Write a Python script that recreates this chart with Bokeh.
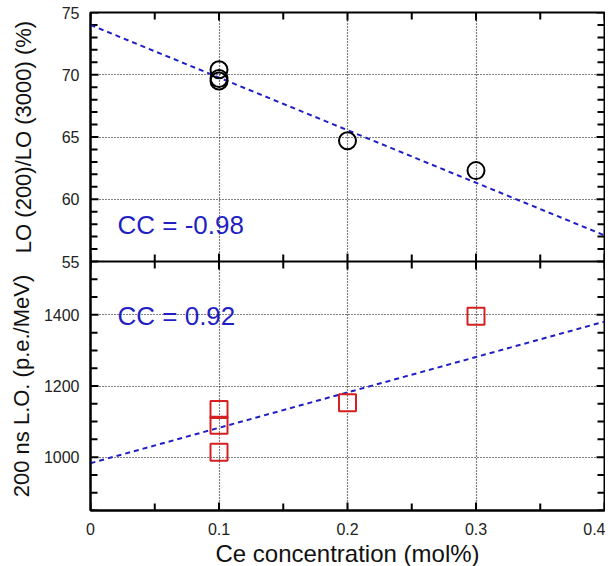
from bokeh.plotting import figure
from bokeh.layouts import column
from bokeh.models import Range1d, FixedTicker, LinearAxis
from bokeh.core.properties import value
from bokeh.embed import file_html
from bokeh.resources import INLINE

# ---- data ----
ce_top = [0.1, 0.1, 0.1, 0.2, 0.3]
lo_ratio = [70.4, 69.7, 69.5, 64.7, 62.3]
fit_top_x = [0.0, 0.4]
fit_top_y = [74.0, 57.1]
cc_top = "CC = -0.98"

ce_bot = [0.1, 0.1, 0.1, 0.2, 0.3]
lo_200 = [1134, 1090, 1014, 1153, 1396]
fit_bot_x = [0.0, 0.4]
fit_bot_y = [983, 1381]
cc_bot = "CC = 0.92"

x_major = [0, 0.1, 0.2, 0.3, 0.4]
x_minor = [0.05, 0.15, 0.25, 0.35]
top_major = [55, 60, 65, 70, 75]
top_minor = [56, 57, 58, 59, 61, 62, 63, 64, 66, 67, 68, 69, 71, 72, 73, 74]
bot_major = [1000, 1200, 1400]
bot_minor = [850, 900, 950, 1050, 1100, 1150, 1250, 1300, 1350, 1450, 1500, 1550]

FONT = "Liberation Sans"
BLUE = "#1f1fc4"
RED = "#d42020"

FW, FH = 514, 249
MAJOR_LEN, MINOR_LEN = 8, 7  # tick lengths in pixels

xr = Range1d(0, 0.4)


def style_axis(ax):
    ax.axis_line_width = 2
    ax.axis_line_color = "black"
    ax.major_tick_line_color = None
    ax.minor_tick_line_color = None
    ax.major_label_text_font = FONT
    ax.major_label_text_font_size = "16px"
    ax.major_label_text_color = "#222222"
    ax.axis_label_text_font = FONT
    ax.axis_label_text_font_style = "normal"
    ax.axis_label_text_color = "#111111"


def add_inward_ticks(p, yr, ymaj, ymin):
    xs_per_px = (xr.end - xr.start) / FW
    ys_per_px = (yr.end - yr.start) / FH
    x0, x1, y0, y1 = [], [], [], []
    for ticks, L in ((x_major, MAJOR_LEN), (x_minor, MINOR_LEN)):
        for t in ticks:
            x0.append(t); x1.append(t); y0.append(yr.start); y1.append(yr.start + L * ys_per_px)
            x0.append(t); x1.append(t); y0.append(yr.end); y1.append(yr.end - L * ys_per_px)
    for ticks, L in ((ymaj, MAJOR_LEN), (ymin, MINOR_LEN)):
        for t in ticks:
            x0.append(xr.start); x1.append(xr.start + L * xs_per_px); y0.append(t); y1.append(t)
            x0.append(xr.end); x1.append(xr.end - L * xs_per_px); y0.append(t); y1.append(t)
    p.segment(x0=x0, y0=y0, x1=x1, y1=y1, line_color="black", line_width=2)


def make_fig(yr, ymaj, ymin, top_border, bottom_border):
    p = figure(x_range=xr, y_range=yr, frame_width=FW, frame_height=FH,
               output_backend="svg", toolbar_location=None,
               min_border_left=90, min_border_right=1,
               min_border_top=top_border, min_border_bottom=bottom_border,
               x_axis_location=None, y_axis_location=None)
    p.outline_line_color = "black"
    p.outline_line_width = 2
    p.background_fill_color = "white"
    p.xgrid.ticker = FixedTicker(ticks=x_major)
    p.ygrid.ticker = FixedTicker(ticks=ymaj)
    for g in (p.xgrid, p.ygrid):
        g.grid_line_color = "black"
        g.grid_line_dash = "1 2"
        g.grid_line_width = 1.2
    add_inward_ticks(p, yr, ymaj, ymin)
    return p


# ---- top panel ----
yr1 = Range1d(55, 75)
p1 = make_fig(yr1, top_major, top_minor, 12, 10)
ax1 = LinearAxis(ticker=FixedTicker(ticks=top_major))
p1.add_layout(ax1, "left")
style_axis(ax1)
ax1.axis_label = "LO (200)/LO (3000) (%)"
ax1.axis_label_text_font_size = "22px"
ax1.axis_label_standoff = 23

p1.line(fit_top_x, fit_top_y, line_color=BLUE, line_width=2, line_dash="5 4")
p1.scatter(ce_top, lo_ratio, marker="circle", size=17, fill_color=None,
           line_color="black", line_width=2)
p1.text([0.021], [57.9], text=[cc_top], text_color=BLUE,
        text_font=value(FONT), text_font_size="26px", text_baseline="alphabetic")

# ---- bottom panel ----
yr2 = Range1d(850, 1550)
p2 = make_fig(yr2, bot_major, bot_minor, 0, 2)
p2.border_fill_alpha = 0
ax2 = LinearAxis(ticker=FixedTicker(ticks=bot_major))
p2.add_layout(ax2, "left")
style_axis(ax2)
ax2.axis_label = "200 ns L.O. (p.e./MeV)"
ax2.axis_label_text_font_size = "22px"
ax2.axis_label_standoff = 7

axb = LinearAxis(ticker=FixedTicker(ticks=x_major))
p2.add_layout(axb, "below")
style_axis(axb)
axb.axis_label = "Ce concentration (mol%)"
axb.axis_label_text_font_size = "24px"
axb.axis_label_standoff = 2
axb.major_label_standoff = 6
axb.major_label_overrides = {0: "0", 0.1: "0.1", 0.2: "0.2", 0.3: "0.3", 0.4: "0.4"}

p2.line(fit_bot_x, fit_bot_y, line_color=BLUE, line_width=2, line_dash="5 4")
p2.scatter(ce_bot, lo_200, marker="square", size=17, fill_color=None,
           line_color=RED, line_width=2)
p2.text([0.021], [1396], text=[cc_bot], text_color=BLUE,
        text_font=value(FONT), text_font_size="26px", text_baseline="alphabetic")

p2.margin = (-10, 0, 0, 0)

layout = column(p1, p2, spacing=0)
open("out.html", "w").write(file_html(layout, INLINE))
